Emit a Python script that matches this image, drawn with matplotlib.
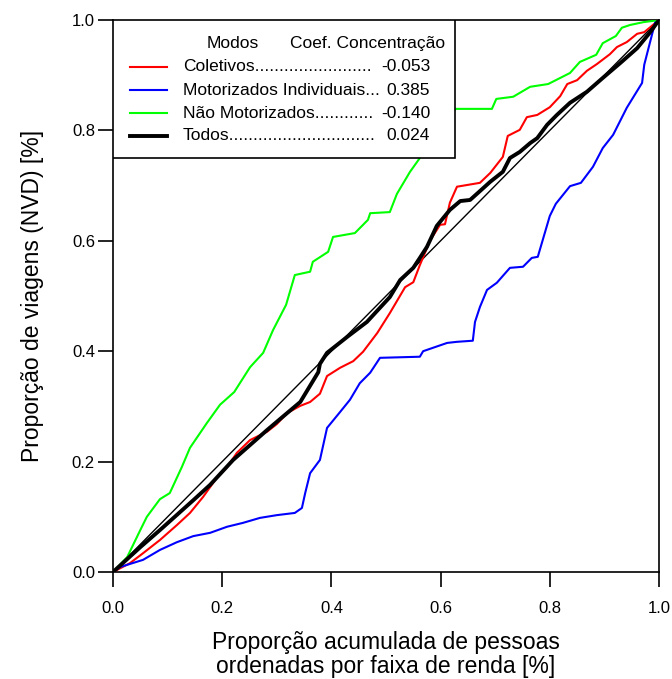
import matplotlib.pyplot as plt
from matplotlib.patches import Rectangle

plt.rcParams['font.family'] = ['Liberation Sans', 'DejaVu Sans']

# curvas de concentracao (proporcao acumulada x, proporcao de viagens y)
col_x = [0, 0.031, 0.055, 0.086, 0.117, 0.141, 0.165, 0.191, 0.209, 0.227, 0.251, 0.282, 0.300,
         0.319, 0.343, 0.361, 0.379, 0.392, 0.416, 0.440, 0.458, 0.484, 0.507, 0.535, 0.550,
         0.562, 0.581, 0.599, 0.608, 0.617, 0.630, 0.672, 0.691, 0.714, 0.723, 0.745, 0.758,
         0.777, 0.800, 0.819, 0.832, 0.850, 0.868, 0.886, 0.910, 0.923, 0.941, 0.960, 0.973, 1.0]
col_y = [0, 0.016, 0.034, 0.058, 0.085, 0.107, 0.136, 0.172, 0.190, 0.216, 0.239, 0.254, 0.268,
         0.288, 0.301, 0.308, 0.323, 0.355, 0.370, 0.382, 0.399, 0.433, 0.469, 0.516, 0.525,
         0.556, 0.601, 0.629, 0.630, 0.669, 0.698, 0.705, 0.723, 0.752, 0.790, 0.801, 0.824,
         0.828, 0.842, 0.862, 0.884, 0.891, 0.908, 0.920, 0.938, 0.951, 0.960, 0.975, 0.978, 1.0]

mot_x = [0, 0.013, 0.055, 0.086, 0.117, 0.147, 0.178, 0.209, 0.238, 0.269, 0.300, 0.333, 0.346,
         0.352, 0.361, 0.379, 0.392, 0.416, 0.434, 0.452, 0.471, 0.489, 0.562, 0.568, 0.612,
         0.630, 0.659, 0.663, 0.672, 0.685, 0.703, 0.727, 0.751, 0.767, 0.778, 0.800, 0.811,
         0.837, 0.857, 0.879, 0.897, 0.916, 0.941, 0.969, 0.973, 0.993, 1.0]
mot_y = [0, 0.009, 0.022, 0.040, 0.054, 0.065, 0.071, 0.082, 0.089, 0.098, 0.103, 0.107, 0.116,
         0.143, 0.179, 0.203, 0.261, 0.290, 0.312, 0.342, 0.361, 0.388, 0.390, 0.400, 0.415,
         0.417, 0.419, 0.453, 0.480, 0.511, 0.524, 0.551, 0.553, 0.569, 0.571, 0.645, 0.667,
         0.699, 0.705, 0.734, 0.768, 0.792, 0.841, 0.886, 0.919, 0.996, 1.0]

nmot_x = [0, 0.026, 0.050, 0.062, 0.086, 0.104, 0.126, 0.141, 0.172, 0.196, 0.222, 0.251, 0.275,
          0.293, 0.317, 0.333, 0.361, 0.366, 0.394, 0.403, 0.443, 0.467, 0.471, 0.507, 0.520,
          0.544, 0.562, 0.599, 0.628, 0.694, 0.702, 0.733, 0.764, 0.797, 0.837, 0.855, 0.885,
          0.897, 0.921, 0.932, 0.947, 0.971, 1.0]
nmot_y = [0, 0.027, 0.076, 0.100, 0.132, 0.143, 0.190, 0.225, 0.270, 0.303, 0.326, 0.371, 0.397,
          0.438, 0.484, 0.538, 0.544, 0.562, 0.580, 0.607, 0.614, 0.638, 0.650, 0.652, 0.685,
          0.725, 0.750, 0.810, 0.839, 0.839, 0.857, 0.861, 0.879, 0.884, 0.904, 0.924, 0.937,
          0.958, 0.971, 0.986, 0.991, 0.996, 1.0]

tod_x = [0, 0.050, 0.086, 0.147, 0.178, 0.220, 0.251, 0.282, 0.319, 0.343, 0.376, 0.379, 0.392,
         0.429, 0.465, 0.507, 0.526, 0.550, 0.562, 0.575, 0.593, 0.617, 0.636, 0.654, 0.672,
         0.691, 0.714, 0.727, 0.745, 0.764, 0.777, 0.795, 0.813, 0.837, 0.868, 0.897, 0.929,
         0.960, 0.984, 1.0]
tod_y = [0, 0.045, 0.076, 0.130, 0.158, 0.203, 0.230, 0.257, 0.288, 0.308, 0.362, 0.377, 0.397,
         0.426, 0.453, 0.498, 0.529, 0.551, 0.569, 0.589, 0.627, 0.656, 0.672, 0.674, 0.690,
         0.707, 0.725, 0.750, 0.761, 0.777, 0.786, 0.810, 0.828, 0.850, 0.870, 0.895, 0.922,
         0.949, 0.978, 1.0]

modos = ['Coletivos', 'Motorizados Individuais', 'Não Motorizados', 'Todos']
pontos = ['.' * 24, '...', '.' * 12, '.' * 30]
coefs = ['-0.053', '0.385', '-0.140', '0.024']
cores = ['#ff0000', '#0000ff', '#00ff00', '#000000']
larguras = [1.5, 1.5, 1.5, 2.8]

fig = plt.figure(figsize=(6.72, 6.79), dpi=100)
ax = fig.add_axes([113 / 672, 107 / 679, 546 / 672, 552 / 679])

ax.plot([0, 1], [0, 1], color='black', lw=1.0, zorder=2)
series = [(col_x, col_y), (mot_x, mot_y), (nmot_x, nmot_y), (tod_x, tod_y)]
for (xs, ys), c, lw in zip(series, cores, larguras):
    ax.plot(xs, ys, color=c, lw=lw, zorder=3)

ax.set_xlim(0, 1)
ax.set_ylim(0, 1)
ticks = [0.0, 0.2, 0.4, 0.6, 0.8, 1.0]
ax.set_xticks(ticks)
ax.set_yticks(ticks)
ax.set_xticklabels([f'{t:.1f}' for t in ticks])
ax.set_yticklabels([f'{t:.1f}' for t in ticks])
ax.tick_params(direction='out', length=11, width=1.2, labelsize=12, pad=10)
ax.tick_params(axis='y', pad=2)
for s in ax.spines.values():
    s.set_linewidth(1.2)

ax.set_xlabel('Proporção acumulada de pessoas\nordenadas por faixa de renda [%]',
              fontsize=16.5, labelpad=11, linespacing=1.05)
ax.set_ylabel('Proporção de viagens (NVD) [%]', fontsize=16.5, labelpad=20)

# legenda desenhada a mao para alinhar os coeficientes
ax.add_patch(Rectangle((0, 0.75), 0.6264, 0.25, transform=ax.transAxes,
                       facecolor='white', edgecolor='black', lw=1.2, zorder=5))
ax.text(0.172, 0.958, 'Modos', transform=ax.transAxes, fontsize=12.5,
        va='center', ha='left', zorder=6)
ax.text(0.324, 0.958, 'Coef. Concentração', transform=ax.transAxes, fontsize=12.5,
        va='center', ha='left', zorder=6)
linhas_y = [0.915, 0.873, 0.8315, 0.790]
for m, p, v, c, lw, yy in zip(modos, pontos, coefs, cores, larguras, linhas_y):
    ax.plot([0.031, 0.099], [yy, yy], color=c, lw=lw, transform=ax.transAxes,
            zorder=6, clip_on=False)
    ax.text(0.128, yy, m + p, transform=ax.transAxes, fontsize=12.5,
            va='center', ha='left', zorder=6)
    ax.text(0.581, yy, v, transform=ax.transAxes, fontsize=12.5,
            va='center', ha='right', zorder=6)

fig.savefig('out.png', dpi=100)
